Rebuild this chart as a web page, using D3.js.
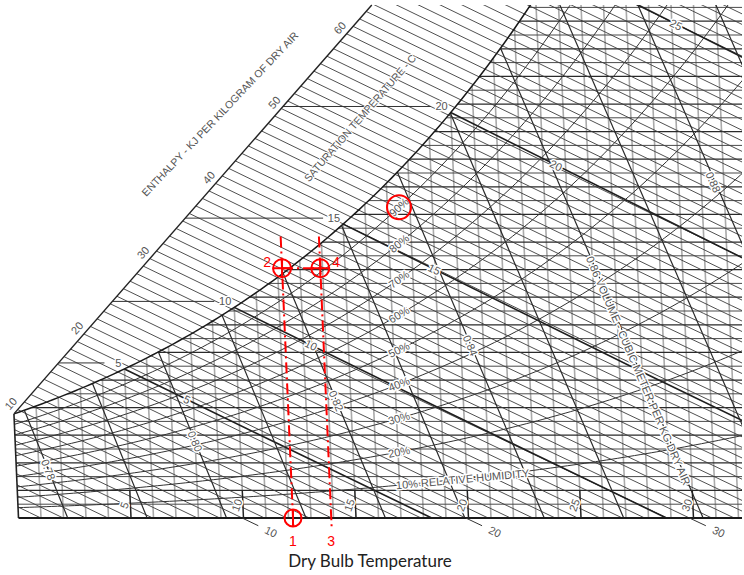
<!DOCTYPE html>
<meta charset="utf-8">
<script src="https://d3js.org/d3.v7.min.js"></script>
<style>
  body { margin: 0; background: #fff; }
  text { font-family: "Liberation Sans", Arial, sans-serif; }
</style>
<body>
<div id="chart"></div>
<script>
// ---- chart values ----
var dryBulbGrid = d3.range(1, 33);            // deg C, light grid
var dryBulbLabels = [5, 10, 15, 20, 25, 30];
var humidityGrid = d3.range(0.5, 19, 0.5);     // g/kg dry air
var enthalpyGrid = d3.range(1, 81);            // kJ/kg dry air
var enthalpyLabels = [10, 20, 30, 40, 50, 60];
var enthalpyBottomLabels = [10, 20, 30];
var wetBulbGrid = [5, 10, 15, 20, 25];         // saturation temperature, deg C
var satTempLabels = [5, 10, 15, 20];
var wetBulbLabels = [5, 10, 15, 20, 25];
var rhValues = [0.1, 0.2, 0.3, 0.4, 0.5, 0.6, 0.7, 0.8, 0.9];
var rhLabels = ["10% RELATIVE HUMIDITY", "20%", "30%", "40%", "50%", "60%", "70%", "80%", "90%"];
var volumeGrid = [0.78, 0.79, 0.80, 0.81, 0.82, 0.83, 0.84, 0.85, 0.86, 0.87, 0.88, 0.89];
var volumeLabels = [0.78, 0.80, 0.82, 0.84, 0.86, 0.88];

// red annotation: process lines 1-2 and 3-4
var processTemps = [12.2, 13.9];   // dry bulb of points 1/2 and 3/4
var processW = 9.05;               // humidity ratio of points 2 and 4
var processLabels = [["1", "2"], ["3", "4"]];
var highlightRH = 0.9;

// ---- psychrometric relations (sea level) ----
var P = 101.325;
function pws(T) { return 0.61078 * Math.exp(17.27 * T / (T + 237.3)); }
function wRH(T, phi) { var p = phi * pws(T); return 622 * p / (P - p); }
function wSat(T) { return wRH(T, 1); }
function tFromH(h, W) { return (h - 2.501 * W) / (1.006 + 0.00186 * W); }
function tFromV(v, W) { return v * P / (0.287042 * (1 + 0.0016078 * W)) - 273.15; }
function wWetBulb(T, twb) {
  return ((2501 - 2.326 * twb) * wSat(twb) - 1006 * (T - twb)) / (2501 + 1.86 * T - 4.186 * twb);
}
function solve(f, a, b) {
  var fa = f(a);
  for (var i = 0; i < 60; i++) {
    var m = (a + b) / 2, fm = f(m);
    if ((fm > 0) === (fa > 0)) { a = m; fa = fm; } else { b = m; }
  }
  return (a + b) / 2;
}

// ---- layout ----
var width = 744, height = 575;
var svg = d3.select("#chart").append("svg")
    .attr("width", width)
    .attr("height", height);

var x = d3.scaleLinear().domain([0, 30]).range([18.5, 693.5]);
var y = d3.scaleLinear().domain([0, 18]).range([518, 21.2]);
var skew = 1.21;   // dry bulb lines lean left as humidity rises
function px(T, W) { return x(T) - skew * W; }
function pt(T, W) { return [px(T, W), y(W)]; }
var wTop = y.invert(5);
var xRight = 742;
var line = d3.line();

// enthalpy scale edge (left diagonal border)
var sA = pt(0, wSat(0));
var sB = pt(16.7, wTop);
function side(p) { return (sB[0] - sA[0]) * (p[1] - sA[1]) - (sB[1] - sA[1]) * (p[0] - sA[0]); }
var inSign = Math.sign(side(pt(10, 0)));

svg.append("clipPath").attr("id", "plotClip")
  .append("polygon")
  .attr("points", [[px(0, 0), y(0) + 1], sA, sB, [xRight, 5], [xRight, y(0) + 1]].join(" "));

var plot = svg.append("g").attr("clip-path", "url(#plotClip)");

// dry bulb lines
plot.append("g").selectAll("path")
  .data(dryBulbGrid)
  .enter().append("path")
  .attr("d", function(T) { return line([pt(T, 0), pt(T, Math.min(wSat(T), wTop + 1))]); })
  .attr("stroke", "#aaa").attr("stroke-width", 1.6).attr("fill", "none");

// humidity ratio lines
plot.append("g").selectAll("path")
  .data(humidityGrid)
  .enter().append("path")
  .attr("d", function(W) {
    var t0 = W <= wSat(0) ? 0 : solve(function(T) { return wSat(T) - W; }, -5, 40);
    var t1 = x.invert(xRight + 3 + skew * W);
    return line([pt(t0, W), pt(t1, W)]);
  })
  .attr("stroke", function(W) { return W % 1 === 0 ? "#2a2a2a" : "#4a4a4a"; })
  .attr("stroke-width", function(W) { return W % 1 === 0 ? 1.25 : 1; })
  .attr("fill", "none");

// enthalpy lines, from the scale edge (or left edge) down to W = 0
function enthalpyStart(h) {
  if (h <= 2.501 * wSat(0)) return h / 2.501;
  var f = function(W) { return inSign * side(pt(tFromH(h, W), W)); };
  if (f(25) > 0) return 25;
  return solve(f, 0, 25);
}
plot.append("g").selectAll("path")
  .data(enthalpyGrid)
  .enter().append("path")
  .attr("d", function(h) {
    var w0 = enthalpyStart(h);
    return line([0, 0.5, 1].map(function(k) { var W = w0 * (1 - k); return pt(tFromH(h, W), W); }));
  })
  .attr("stroke", "#3c3c3c").attr("stroke-width", 0.9).attr("fill", "none");

// wet bulb lines from the saturation curve
plot.append("g").selectAll("path")
  .data(wetBulbGrid)
  .enter().append("path")
  .attr("d", function(twb) {
    var tEnd = twb + (2501 - 2.326 * twb) * wSat(twb) / 1006;
    return line([0, 0.5, 1].map(function(k) {
      var T = twb + k * (tEnd - twb);
      return pt(T, Math.max(0, wWetBulb(T, twb)));
    }));
  })
  .attr("stroke", "#1e1e1e").attr("stroke-width", 1.6).attr("fill", "none");

// specific volume lines
function volumeStart(v) { return solve(function(T) { return tFromV(v, wSat(T)) - T; }, -10, 45); }
plot.append("g").selectAll("path")
  .data(volumeGrid)
  .enter().append("path")
  .attr("d", function(v) {
    var ts = volumeStart(v);
    return line([pt(ts, wSat(ts)), pt(tFromV(v, 0), 0)]);
  })
  .attr("stroke", "#2a2a2a").attr("stroke-width", 1.2).attr("fill", "none");

// relative humidity curves
var tSamples = d3.range(0, 36.01, 0.25);
plot.append("g").selectAll("path")
  .data(rhValues)
  .enter().append("path")
  .attr("d", function(phi) { return line(tSamples.map(function(T) { return pt(T, wRH(T, phi)); })); })
  .attr("stroke", "#333").attr("stroke-width", 1).attr("fill", "none");

// saturation curve
plot.append("path")
  .attr("d", line(tSamples.filter(function(T) { return wSat(T) < wTop + 1; })
    .map(function(T) { return pt(T, wSat(T)); })))
  .attr("stroke", "#1a1a1a").attr("stroke-width", 1.5).attr("fill", "none");

// leader lines from the scale edge to the saturation labels
satTempLabels.forEach(function(t) {
  var yy = y(wSat(t)) - 6;
  var u = (yy - sA[1]) / (sB[1] - sA[1]);
  plot.append("line")
    .attr("x1", sA[0] + u * (sB[0] - sA[0])).attr("y1", yy)
    .attr("x2", px(t, wSat(t)) - 20).attr("y2", yy)
    .attr("stroke", "#333").attr("stroke-width", 1);
});

// borders: scale edge, left edge, bottom
svg.append("path").attr("d", line([sA, sB])).attr("stroke", "#222").attr("stroke-width", 1.4).attr("fill", "none");
svg.append("path").attr("d", line([pt(0, 0), sA])).attr("stroke", "#222").attr("stroke-width", 1.6).attr("fill", "none");
svg.append("path").attr("d", line([pt(0, 0), [xRight, y(0)]])).attr("stroke", "#1a1a1a").attr("stroke-width", 2).attr("fill", "none");

// dry bulb ticks at the bottom and enthalpy stubs below the base
svg.append("g").selectAll("path")
  .data(dryBulbLabels)
  .enter().append("path")
  .attr("d", function(T) { return line([pt(T, 0), pt(T, 1)]); })
  .attr("stroke", "#222").attr("stroke-width", 1.3);
svg.append("g").selectAll("path")
  .data(enthalpyBottomLabels)
  .enter().append("path")
  .attr("d", function(h) { return line([pt(tFromH(h, 0), 0), pt(tFromH(h, -0.28), -0.28)]); })
  .attr("stroke", "#333").attr("stroke-width", 1);

// ---- labels ----
function halo(sel) {
  return sel.attr("paint-order", "stroke").attr("stroke", "#fff").attr("stroke-width", 3)
    .attr("stroke-linejoin", "round");
}
function angle(a, b) { return Math.atan2(b[1] - a[1], b[0] - a[0]) * 180 / Math.PI; }
var labels = svg.append("g").attr("font-size", 11).attr("fill", "#555");

// enthalpy scale
var sDir = [sB[0] - sA[0], sB[1] - sA[1]];
var sLen = Math.hypot(sDir[0], sDir[1]);
var nOut = [sDir[1] / sLen, -sDir[0] / sLen];
var scaleAngle = angle(sA, sB);
enthalpyLabels.forEach(function(h) {
  var W = enthalpyStart(h), p = pt(tFromH(h, W), W);
  var cx = p[0] + 9 * nOut[0], cy = p[1] + 9 * nOut[1];
  halo(labels.append("text"))
    .attr("transform", "translate(" + cx + "," + cy + ") rotate(" + scaleAngle + ")")
    .attr("text-anchor", "middle").attr("dy", "0.35em").text(h);
});
labels.append("text")
  .attr("transform", "translate(220,114) rotate(-46.5)")
  .attr("text-anchor", "middle").attr("dy", "0.35em").attr("font-size", 10.5)
  .text("ENTHALPY - KJ PER KILOGRAM OF DRY AIR");
halo(labels.append("text"))
  .attr("transform", "translate(360,118) rotate(-49)")
  .attr("text-anchor", "middle").attr("dy", "0.35em").attr("font-size", 10.5)
  .attr("stroke-width", 2)
  .text("SATURATION TEMPERATURE - C");

// saturation temperature labels
satTempLabels.forEach(function(t) {
  var p = pt(t, wSat(t));
  halo(labels.append("text"))
    .attr("x", p[0] - 3).attr("y", p[1] - 6)
    .attr("text-anchor", "end").attr("dy", "0.35em").text(t);
});

// wet bulb labels along each line
wetBulbLabels.forEach(function(twb) {
  var T = solve(function(T) { return wWetBulb(T, twb) - wRH(T, 0.66); }, twb, twb + 20);
  var p = pt(T, wWetBulb(T, twb)), q = pt(T + 1, wWetBulb(T + 1, twb));
  halo(labels.append("text"))
    .attr("transform", "translate(" + p[0] + "," + p[1] + ") rotate(" + angle(p, q) + ")")
    .attr("text-anchor", "middle").attr("dy", "0.35em").text(twb);
});

// relative humidity labels
var rhLabelPos = {};
rhValues.forEach(function(phi, i) {
  var target = i === 0 ? 396 : 399;
  var T = solve(function(T) { return px(T, wRH(T, phi)) - target; }, 0, 35);
  var p = pt(T, wRH(T, phi)), q = pt(T + 0.5, wRH(T + 0.5, phi));
  rhLabelPos[phi] = p;
  halo(labels.append("text"))
    .attr("transform", "translate(" + p[0] + "," + p[1] + ") rotate(" + angle(p, q) + ")")
    .attr("text-anchor", i === 0 ? "start" : "middle").attr("dy", "0.35em")
    .text(rhLabels[i]);
});

// volume labels
volumeLabels.forEach(function(v) {
  var rh = v === 0.86 ? 0.455 : 0.42;
  var T = solve(function(T) { return tFromV(v, wRH(T, rh)) - T; }, -10, 45);
  var W = wRH(T, rh), p = pt(T, W), q = pt(tFromV(v, W - 1), W - 1);
  var long = v === 0.86;
  halo(labels.append("text"))
    .attr("transform", "translate(" + p[0] + "," + p[1] + ") rotate(" + angle(p, q) + ")")
    .attr("text-anchor", long ? "start" : "middle").attr("dy", "0.35em")
    .text(long ? "0.86 VOLUME - CUBIC METER PER KG DRY AIR" : d3.format(".2f")(v));
});

// dry bulb labels at the base
dryBulbLabels.forEach(function(T) {
  var p = pt(T, 0.5);
  halo(labels.append("text"))
    .attr("transform", "translate(" + (p[0] - 6) + "," + (p[1] + 1) + ") rotate(-70)")
    .attr("text-anchor", "middle").attr("dy", "0.35em").text(T);
});
enthalpyBottomLabels.forEach(function(h) {
  var p = pt(tFromH(h, -0.5), -0.5), q = pt(tFromH(h, -1.5), -1.5);
  labels.append("text")
    .attr("transform", "translate(" + p[0] + "," + p[1] + ") rotate(" + angle(p, q) + ")")
    .attr("text-anchor", "middle").attr("dy", "0.35em").text(h);
});

// ---- red annotation ----
var red = svg.append("g").attr("stroke", "#f00").attr("fill", "none").attr("stroke-width", 2);
processTemps.forEach(function(T) {
  red.append("path").attr("d", line([pt(T, processW + 1.15), pt(T, -0.35)]))
    .attr("stroke-dasharray", "11,4,2,4");
});
red.append("path")
  .attr("d", line([pt(processTemps[0], processW), pt(processTemps[1], processW)]))
  .attr("stroke-dasharray", "11,4,2,4");

var markers = [
  {T: processTemps[0], W: 0, r: 8.5, cross: false},
  {T: processTemps[0], W: processW, r: 9, cross: true},
  {T: processTemps[1], W: processW, r: 9, cross: true}
];
markers.forEach(function(m) {
  var p = pt(m.T, m.W);
  red.append("circle").attr("cx", p[0]).attr("cy", p[1]).attr("r", m.r);
  red.append("line").attr("x1", p[0]).attr("x2", p[0]).attr("y1", p[1] - m.r).attr("y2", p[1] + m.r);
  if (m.cross) red.append("line").attr("x1", p[0] - m.r).attr("x2", p[0] + m.r).attr("y1", p[1]).attr("y2", p[1]);
});
var hp = rhLabelPos[highlightRH];
red.append("circle").attr("cx", hp[0]).attr("cy", hp[1]).attr("r", 12);

var redText = svg.append("g").attr("fill", "#f00").attr("font-size", 14);
processTemps.forEach(function(T, i) {
  var b = pt(T, 0), s = pt(T, processW);
  redText.append("text").attr("x", b[0]).attr("y", b[1] + 28).attr("text-anchor", "middle").text(processLabels[i][0]);
  redText.append("text")
    .attr("x", i === 0 ? s[0] - 11 : s[0] + 12).attr("y", s[1] - 1)
    .attr("text-anchor", i === 0 ? "end" : "start").text(processLabels[i][1]);
});

// caption
svg.append("text")
  .attr("x", 370).attr("y", 567)
  .attr("text-anchor", "middle")
  .style("font-family", "Lato, 'Open Sans', sans-serif")
  .attr("font-size", 17).attr("fill", "#222")
  .text("Dry Bulb Temperature");
</script>
</body>
